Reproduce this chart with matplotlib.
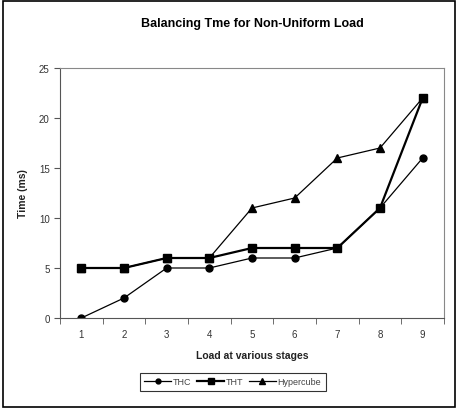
import matplotlib
matplotlib.use('Agg')
import matplotlib.pyplot as plt
from matplotlib.patches import Rectangle

plt.rcParams['font.family'] = ['Liberation Sans', 'DejaVu Sans']

loads = [1, 2, 3, 4, 5, 6, 7, 8, 9]
thc = [0, 2, 5, 5, 6, 6, 7, 11, 16]
tft = [5, 5, 6, 6, 7, 7, 7, 11, 22]
hypercube = [5, 5, 6, 6, 11, 12, 16, 17, 22]
y_ticks = [0, 5, 10, 15, 20, 25]

fig = plt.figure(figsize=(4.59, 4.10), dpi=100)
ax = fig.add_axes([60/459, 1 - 319/410, 384/459, 250/410])

# outer frame round the whole chart
fig.patches.append(Rectangle((3/459, 2/410), 452/459, 406/410, transform=fig.transFigure,
                             fill=False, edgecolor='black', linewidth=1.2))

ax.plot(loads, thc, color='black', marker='o', markersize=5, linewidth=0.9, label='THC')
ax.plot(loads, tft, color='black', marker='s', markersize=6, linewidth=1.6, label='THT')
ax.plot(loads, hypercube, color='black', marker='^', markersize=6, linewidth=0.9, label='Hypercube')

ax.set_xlim(0.5, 9.5)
ax.set_ylim(0, 25)
ax.set_yticks(y_ticks)
ax.set_xticks(loads)
ax.set_xticks([x + 0.5 for x in range(0, 10)], minor=True)
ax.tick_params(axis='x', which='major', length=0, labelsize=7, pad=8, colors='#333333')
ax.tick_params(axis='x', which='minor', length=4, direction='out', color='#555555')
ax.tick_params(axis='y', length=4, direction='out', labelsize=7, colors='#555555', labelcolor='#333333')

for side in ['top', 'right']:
    ax.spines[side].set_color('#888888')
ax.spines['left'].set_color('#555555')
ax.spines['bottom'].set_color('#555555')

ax.set_title('Balancing Tme for Non-Uniform Load', fontsize=9, fontweight='bold', pad=30)
ax.set_xlabel('Load at various stages', fontsize=7.5, fontweight='bold', labelpad=8, color='#222222')
ax.set_ylabel('Time (ms)', fontsize=7.5, fontweight='bold', labelpad=8, color='#222222')

leg = ax.legend(loc='upper center', bbox_to_anchor=(0.45, -0.2), ncol=3, fontsize=6.5,
                frameon=True, fancybox=False, handlelength=3, columnspacing=0.6, handletextpad=0.2,
                markerscale=0.7, borderpad=0.5, labelcolor='#444444')
leg.get_frame().set_edgecolor('black')
leg.get_frame().set_linewidth(0.8)

fig.savefig('out.png', dpi=100)
